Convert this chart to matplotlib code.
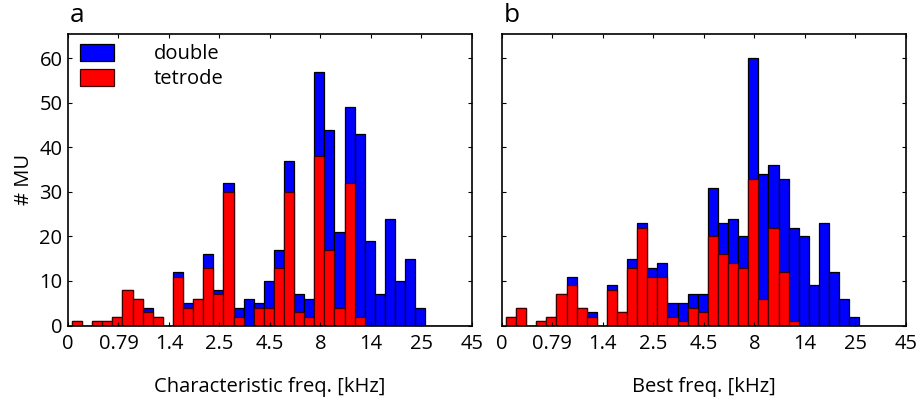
import numpy as np
import matplotlib
matplotlib.use('Agg')
import matplotlib.pyplot as plt

plt.rcParams['font.family'] = ['Open Sans', 'DejaVu Sans']

# tick labels (kHz), equally spaced on the axis
freq_labels = ['0', '0.79', '1.4', '2.5', '4.5', '8', '14', '25', '45']

# panel a: characteristic frequency, 40 bins (5 per labelled tick)
double_a = [0, 0, 0, 0, 0, 0, 0, 1, 0, 0,
            1, 1, 0, 3, 1, 2, 2, 6, 1, 6,
            4, 7, 4, 4, 19, 27, 17, 17, 41, 19,
            7, 24, 10, 15, 4, 0, 0, 0, 0, 0]
tetrode_a = [1, 0, 1, 1, 2, 8, 6, 3, 2, 0,
             11, 4, 6, 13, 7, 30, 2, 0, 4, 4,
             13, 30, 3, 2, 38, 17, 4, 32, 2, 0,
             0, 0, 0, 0, 0, 0, 0, 0, 0, 0]

# panel b: best frequency
double_b = [0, 0, 0, 0, 0, 0, 2, 0, 1, 0,
            1, 0, 2, 1, 2, 3, 3, 4, 3, 4,
            11, 7, 10, 7, 27, 28, 14, 21, 21, 20,
            9, 23, 12, 6, 2, 0, 0, 0, 0, 0]
tetrode_b = [2, 4, 0, 1, 2, 7, 9, 4, 2, 0,
             8, 3, 13, 22, 11, 11, 2, 1, 4, 3,
             20, 16, 14, 13, 33, 6, 22, 12, 1, 0,
             0, 0, 0, 0, 0, 0, 0, 0, 0, 0]

W, H = 920, 405
FS = 14.5


def draw_hist(ax, double, tetrode):
    n = len(tetrode)
    bw = (len(freq_labels) - 1) / n
    left = 0.08 + bw * np.arange(n)
    tet = np.array(tetrode)
    dbl = np.array(double)
    ax.bar(left, tet + dbl, width=bw, align='edge', color='#0000ff',
           edgecolor='black', linewidth=0.9, label='double')
    ax.bar(left, tet, width=bw, align='edge', color='#ff0000',
           edgecolor='#400000', linewidth=0.9, label='tetrode')
    ax.set_xlim(0, len(freq_labels) - 1)
    ax.set_ylim(0, 65.5)
    ax.set_xticks(np.arange(len(freq_labels)))
    ax.set_xticklabels(freq_labels)
    ax.set_yticks(np.arange(0, 61, 10))
    ax.tick_params(direction='in', top=True, right=True, length=3,
                   width=0.8, labelsize=FS, pad=6)
    for s in ax.spines.values():
        s.set_linewidth(1.2)


fig = plt.figure(figsize=(W / 100, H / 100), dpi=100)
ax_a = fig.add_axes([68 / W, 1 - 325.5 / H, 403.7 / W, 291.5 / H])
ax_b = fig.add_axes([501.9 / W, 1 - 325.5 / H, 403.8 / W, 291.5 / H])

draw_hist(ax_a, double_a, tetrode_a)
draw_hist(ax_b, double_b, tetrode_b)
ax_b.set_yticklabels([])
ax_a.tick_params(axis='y', pad=4)

ax_a.set_xlabel('Characteristic freq. [kHz]', fontsize=FS, labelpad=17)
ax_b.set_xlabel('Best freq. [kHz]', fontsize=FS, labelpad=17)
ax_a.set_ylabel('# MU', fontsize=FS, labelpad=4)

fig.text(77 / W, 1 - 15 / H, 'a', fontsize=19, ha='center', va='center')
fig.text(512 / W, 1 - 15 / H, 'b', fontsize=19, ha='center', va='center')

ax_a.legend(loc='upper left', bbox_to_anchor=(12 / 403.7, 1 - 10 / 291.5),
            frameon=False, fontsize=FS, borderaxespad=0, borderpad=0,
            handlelength=1.7, handleheight=0.93, handletextpad=1.95,
            labelspacing=0.2)

fig.savefig('out.png', dpi=100)
